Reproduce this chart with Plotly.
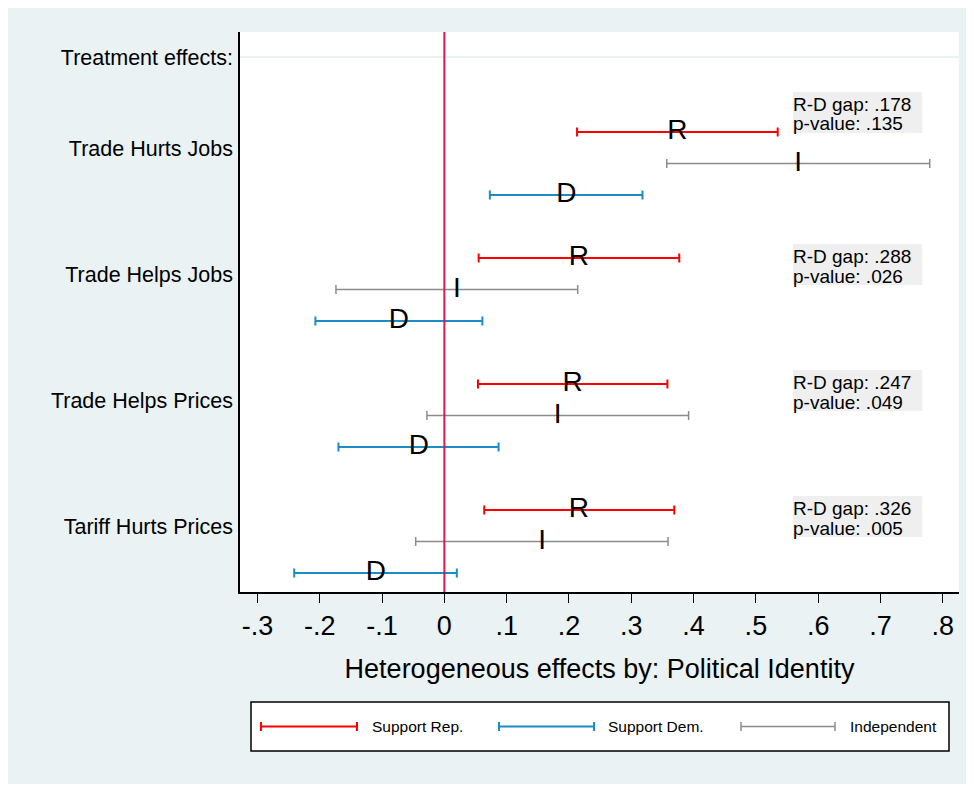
import plotly.graph_objects as go

# ---------------- data ----------------
categories = ["Trade Hurts Jobs", "Trade Helps Jobs", "Trade Helps Prices", "Tariff Hurts Prices"]
header_label = "Treatment effects:"

rep_est = [0.374, 0.216, 0.206, 0.216]
rep_lo = [0.213, 0.055, 0.054, 0.064]
rep_hi = [0.535, 0.377, 0.358, 0.369]

ind_est = [0.568, 0.020, 0.182, 0.157]
ind_lo = [0.357, -0.174, -0.028, -0.046]
ind_hi = [0.779, 0.214, 0.392, 0.359]

dem_est = [0.196, -0.073, -0.041, -0.110]
dem_lo = [0.073, -0.207, -0.170, -0.241]
dem_hi = [0.318, 0.061, 0.087, 0.020]

gap_values = [".178", ".288", ".247", ".326"]
p_values = [".135", ".026", ".049", ".005"]

x_tick_vals = [-0.3, -0.2, -0.1, 0.0, 0.1, 0.2, 0.3, 0.4, 0.5, 0.6, 0.7, 0.8]
x_tick_text = ["-.3", "-.2", "-.1", "0", ".1", ".2", ".3", ".4", ".5", ".6", ".7", ".8"]

series_names = ["Support Rep.", "Support Dem.", "Independent"]

# ---------------- styling ----------------
FONT = "Liberation Sans, Arial, sans-serif"
RED = "#FF0000"
BLUE = "#1C8CC4"
GRAY = "#8C8C8C"
ZERO = "#D81B4F"
BG = "#EAF2F3"

OFF = 8  # page body margin
W, H = 974 - OFF, 786 - OFF
L, R, T, B = 240 - OFF, 15, 32 - OFF, 194
PW, PH = W - L - R, H - T - B


def px_x(x):
    # page pixel -> paper coordinate
    return (x - OFF - L) / PW


def px_y(y):
    return (H - B - (y - OFF)) / PH


# row positions (layout)
n = len(categories)
y_rep = [4 * k + 1 for k in range(n)]
y_ind = [4 * k + 2 for k in range(n)]
y_dem = [4 * k + 3 for k in range(n)]
y_lab = [4 * k + 1.52 for k in range(n)]
y_head = -1.38

fig = go.Figure()


def add_series(est, lo, hi, ys, letter, color, lw, name):
    fig.add_trace(go.Scatter(
        x=est, y=ys, mode="text", text=[letter] * len(est),
        textposition="middle center",
        textfont=dict(family=FONT, size=28, color="black"),
        error_x=dict(type="data", symmetric=False,
                     array=[h - e for h, e in zip(hi, est)],
                     arrayminus=[e - l for e, l in zip(est, lo)],
                     color=color, thickness=lw, width=4.5),
        name=name, showlegend=False, hoverinfo="skip",
    ))


add_series(rep_est, rep_lo, rep_hi, y_rep, "R", RED, 2, series_names[0])
add_series(ind_est, ind_lo, ind_hi, y_ind, "I", GRAY, 1.5, series_names[2])
add_series(dem_est, dem_lo, dem_hi, y_dem, "D", BLUE, 2, series_names[1])

shapes = []
# outer background
shapes.append(dict(type="rect", xref="paper", yref="paper",
                   x0=px_x(8), x1=px_x(967), y0=px_y(784), y1=px_y(8),
                   fillcolor=BG, line=dict(width=0), layer="below"))
# plot area white
shapes.append(dict(type="rect", xref="paper", yref="paper",
                   x0=0, x1=1, y0=0, y1=1,
                   fillcolor="white", line=dict(width=0), layer="below"))
# header grid line
shapes.append(dict(type="line", xref="paper", yref="y",
                   x0=0, x1=1, y0=y_head, y1=y_head,
                   line=dict(color="#E4ECEE", width=1.5), layer="below"))
# zero line
shapes.append(dict(type="line", xref="x", yref="paper",
                   x0=0, x1=0, y0=0, y1=1,
                   line=dict(color=ZERO, width=2), layer="above"))

annotations = []
# gap boxes
offs = [-0.825, 0, 0, 0]
for k in range(n):
    yr = y_rep[k] + offs[k]
    shapes.append(dict(type="rect", xref="x", yref="y",
                       x0=0.5595, x1=0.767, y0=yr - 0.444, y1=yr + 0.857,
                       fillcolor="#EFEFEF", line=dict(width=0), layer="below"))
    annotations.append(dict(x=0.5595, y=yr - 0.05, xref="x", yref="y",
                            text="R-D gap: " + gap_values[k], showarrow=False,
                            xanchor="left", yanchor="middle", borderpad=0, borderwidth=0,
                            font=dict(family=FONT, size=19, color="black")))
    annotations.append(dict(x=0.5595, y=yr + 0.57, xref="x", yref="y",
                            text="p-value: " + p_values[k], showarrow=False,
                            xanchor="left", yanchor="middle", borderpad=0, borderwidth=0,
                            font=dict(family=FONT, size=19, color="black")))

# manual legend
shapes.append(dict(type="rect", xref="paper", yref="paper",
                   x0=px_x(251), x1=px_x(949), y0=px_y(751), y1=px_y(702),
                   fillcolor="white", line=dict(color="black", width=1.5)))
ly = 726.5
leg = [(261, 357, 371, RED, 2, series_names[0]),
       (499, 594, 607, BLUE, 2, series_names[1]),
       (741, 835, 849, GRAY, 1.5, series_names[2])]
for x0, x1, xt, col, lw, nm in leg:
    shapes.append(dict(type="line", xref="paper", yref="paper",
                       x0=px_x(x0), x1=px_x(x1), y0=px_y(ly), y1=px_y(ly),
                       line=dict(color=col, width=lw)))
    for xc in (x0, x1):
        shapes.append(dict(type="line", xref="paper", yref="paper",
                           x0=px_x(xc), x1=px_x(xc), y0=px_y(ly - 4.5), y1=px_y(ly + 4.5),
                           line=dict(color=col, width=lw)))
    annotations.append(dict(x=px_x(xt), y=px_y(ly), xref="paper", yref="paper",
                            text=nm, showarrow=False, xanchor="left", yanchor="middle",
                            borderpad=0, font=dict(family=FONT, size=15.5, color="black")))

fig.update_layout(
    width=W, height=H,
    margin=dict(l=L, r=R, t=T, b=B),
    paper_bgcolor="white", plot_bgcolor="white",
    font=dict(family=FONT, color="black"),
    shapes=shapes, annotations=annotations,
    showlegend=False,
)
fig.update_xaxes(
    range=[-0.328, 0.826], tickmode="array", tickvals=x_tick_vals, ticktext=x_tick_text,
    ticks="outside", ticklen=9, tickwidth=1, tickcolor="black",
    tickfont=dict(family=FONT, size=27, color="black"),
    showline=True, linecolor="black", linewidth=1.5, showgrid=False, zeroline=False,
    title=dict(text="Heterogeneous effects by: Political Identity",
               font=dict(family=FONT, size=27, color="black"), standoff=19),
)
fig.update_yaxes(
    range=[15.6, -2.175], tickmode="array",
    tickvals=[y_head] + y_lab, ticktext=[header_label] + categories,
    ticks="", tickfont=dict(family=FONT, size=21.5, color="black"),
    ticklabelstandoff=1,
    showline=True, linecolor="black", linewidth=1.5, showgrid=False, zeroline=False,
)

fig.write_html("out.html")
